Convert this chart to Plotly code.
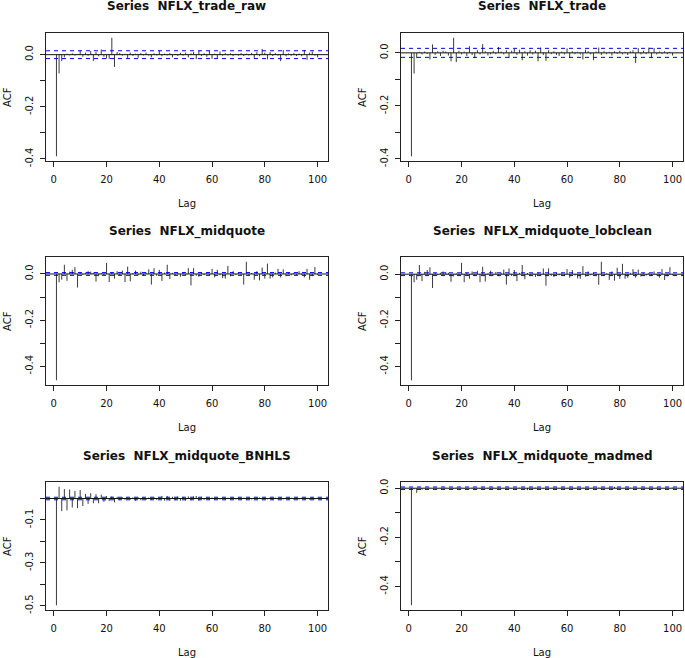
import numpy as np
import plotly.graph_objects as go

W, H = 685, 658

lags = list(range(1, 101))

titles = [
    "Series\u00a0 NFLX_trade_raw",
    "Series\u00a0 NFLX_trade",
    "Series\u00a0 NFLX_midquote",
    "Series\u00a0 NFLX_midquote_lobclean",
    "Series\u00a0 NFLX_midquote_BNHLS",
    "Series\u00a0 NFLX_midquote_madmed",
]

acf_trade_raw = [
    -0.390, -0.072, -0.025, -0.010, 0.004, -0.003, 0.005, -0.004, 0.003, 0.015,
    -0.008, 0.008, -0.004, 0.014, -0.024, 0.010, -0.006, 0.020, -0.008, -0.015,
    -0.016, 0.065, -0.047, 0.010, 0.006, -0.004, 0.003, -0.013, 0.008, -0.005,
    0.004, -0.012, 0.006, -0.003, 0.008, -0.004, -0.010, 0.005, -0.003, 0.015,
    -0.006, 0.004, -0.003, 0.006, -0.010, 0.003, -0.005, 0.007, -0.004, 0.008,
    -0.010, 0.005, 0.010, -0.017, 0.014, -0.005, 0.006, -0.008, 0.015, -0.016,
    0.004, -0.015, 0.012, -0.004, 0.006, -0.003, 0.005, -0.006, 0.003, -0.004,
    0.006, -0.005, 0.004, -0.003, 0.007, -0.015, 0.010, -0.006, 0.022, 0.008,
    -0.018, 0.010, -0.005, 0.006, -0.004, -0.025, 0.018, -0.006, 0.005, -0.004,
    0.006, -0.005, 0.004, -0.006, 0.018, -0.020, 0.008, 0.012, -0.004, -0.010,
]

acf_trade = [
    -0.390, -0.078, -0.020, 0.004, -0.006, 0.005, -0.004, -0.025, 0.032, -0.008,
    0.006, -0.012, 0.008, 0.005, -0.010, -0.032, 0.057, -0.035, 0.008, -0.006,
    0.005, -0.012, 0.025, -0.008, -0.020, 0.010, -0.006, 0.033, 0.006, -0.010,
    -0.006, 0.008, -0.005, 0.022, 0.005, -0.006, 0.010, -0.020, 0.008, 0.015,
    -0.008, 0.012, -0.028, 0.006, -0.010, 0.010, -0.006, 0.008, -0.032, 0.020,
    -0.008, -0.030, 0.010, -0.005, 0.006, -0.008, -0.012, 0.005, -0.006, 0.017,
    -0.020, 0.006, -0.005, 0.004, -0.006, -0.025, 0.012, 0.006, -0.006, -0.028,
    0.005, 0.020, -0.008, 0.006, -0.005, 0.004, -0.010, 0.006, -0.004, 0.008,
    -0.006, 0.004, -0.008, 0.006, 0.010, -0.038, 0.018, -0.006, 0.008, -0.005,
    0.020, -0.020, 0.018, -0.006, 0.005, -0.004, 0.006, -0.005, 0.004, -0.010,
]

acf_midquote = [
    -0.461, -0.036, -0.025, 0.040, -0.030, 0.010, 0.018, 0.030, -0.059, 0.005,
    -0.004, 0.006, 0.012, 0.010, 0.006, -0.033, -0.010, 0.004, -0.005, 0.048,
    -0.035, 0.005, -0.020, 0.012, -0.006, 0.015, -0.035, 0.032, -0.032, 0.004,
    0.015, -0.006, 0.010, -0.008, 0.006, 0.020, -0.046, 0.025, -0.008, 0.018,
    -0.030, 0.006, 0.040, -0.022, 0.005, -0.006, 0.004, -0.012, 0.006, -0.005,
    0.025, -0.050, 0.025, -0.008, -0.012, 0.006, -0.005, 0.004, -0.008, 0.022,
    -0.015, 0.018, -0.006, -0.018, -0.020, 0.035, -0.010, 0.012, -0.005, 0.006,
    -0.004, -0.046, 0.053, -0.006, 0.004, -0.025, 0.012, -0.028, 0.028, -0.020,
    0.045, -0.020, -0.015, 0.006, 0.022, -0.015, 0.020, -0.010, 0.004, -0.006,
    0.005, -0.004, 0.012, -0.005, -0.015, 0.022, -0.025, -0.010, 0.030, -0.005,
]

acf_lobclean = [
    -0.460, -0.035, -0.024, 0.040, -0.030, 0.010, 0.018, 0.030, -0.060, 0.005,
    -0.004, 0.006, 0.012, 0.010, 0.006, -0.033, -0.010, 0.004, -0.005, 0.049,
    -0.035, 0.005, -0.020, 0.012, -0.006, 0.015, -0.035, 0.032, -0.032, 0.004,
    0.015, -0.006, 0.010, -0.008, 0.006, 0.020, -0.045, 0.025, -0.008, 0.018,
    -0.030, 0.006, 0.040, -0.022, 0.005, -0.006, 0.004, -0.012, 0.006, -0.005,
    0.025, -0.050, 0.025, -0.008, -0.012, 0.006, -0.005, 0.004, -0.008, 0.022,
    -0.015, 0.018, -0.006, -0.018, -0.020, 0.035, -0.010, 0.012, -0.005, 0.006,
    -0.004, -0.046, 0.054, -0.006, 0.004, -0.025, 0.012, -0.028, 0.028, -0.020,
    0.045, -0.020, -0.015, 0.006, 0.022, -0.015, 0.020, -0.010, 0.004, -0.006,
    0.005, -0.004, 0.012, -0.005, -0.015, 0.022, -0.025, -0.010, 0.030, -0.005,
]

acf_bnhls = [
    -0.498, 0.055, -0.059, 0.044, -0.055, 0.042, -0.042, 0.035, -0.045, 0.040,
    -0.035, 0.022, -0.025, 0.025, -0.022, 0.020, -0.022, 0.018, -0.015, 0.012,
    -0.012, 0.010, -0.018, 0.008, -0.006, 0.006, -0.006, 0.005, -0.005, 0.005,
    -0.010, 0.006, -0.008, 0.004, -0.006, 0.005, -0.005, 0.006, -0.006, 0.005,
    0.012, -0.010, 0.012, -0.010, 0.008, -0.008, 0.010, -0.010, 0.008, -0.010,
    0.010, -0.008, 0.010, 0.012, -0.010, 0.008, -0.006, 0.006, -0.006, 0.005,
    -0.005, 0.004, -0.004, 0.004, -0.005, 0.004, -0.004, 0.004, -0.004, 0.005,
    -0.004, 0.004, -0.005, 0.004, -0.004, 0.004, -0.004, 0.005, -0.004, 0.004,
    -0.004, 0.004, -0.005, 0.004, -0.004, 0.005, -0.004, 0.004, -0.004, 0.004,
    -0.005, 0.004, -0.004, 0.004, -0.004, 0.004, -0.005, 0.004, -0.004, 0.004,
]

acf_madmed = [
    -0.477, -0.004, -0.019, 0.002, -0.006, 0.001, -0.002, 0.002, -0.001, 0.002,
    -0.002, 0.001, -0.002, 0.002, -0.001, 0.001, -0.002, 0.002, -0.001, 0.002,
    -0.002, 0.001, -0.001, 0.002, -0.002, 0.001, -0.002, 0.002, -0.001, 0.001,
    -0.002, 0.002, -0.001, 0.002, -0.002, 0.001, -0.001, 0.002, -0.002, 0.001,
    -0.002, 0.002, -0.001, 0.001, -0.008, 0.002, -0.001, 0.002, -0.002, 0.001,
    -0.002, 0.002, -0.001, 0.001, -0.002, 0.002, -0.001, 0.002, -0.002, 0.001,
    -0.001, 0.002, -0.002, 0.001, -0.002, 0.002, -0.001, 0.001, -0.002, 0.002,
    -0.001, 0.002, -0.002, 0.001, -0.001, 0.002, -0.002, 0.006, -0.002, 0.002,
    -0.001, 0.001, -0.002, 0.002, -0.001, 0.002, -0.002, 0.001, -0.001, 0.002,
    -0.002, 0.001, -0.002, 0.002, -0.001, 0.001, -0.002, 0.002, -0.001, 0.002,
]

series = [acf_trade_raw, acf_trade, acf_midquote, acf_lobclean, acf_bnhls, acf_madmed]
conf_limits = [0.015, 0.017, 0.006, 0.006, 0.006, 0.005]

xtick_vals = [0, 20, 40, 60, 80, 100]
ytick_vals = [
    [-0.4, -0.3, -0.2, -0.1, 0.0],
    [-0.4, -0.3, -0.2, -0.1, 0.0],
    [-0.4, -0.3, -0.2, -0.1, 0.0],
    [-0.4, -0.3, -0.2, -0.1, 0.0],
    [-0.5, -0.4, -0.3, -0.2, -0.1, 0.0],
    [-0.4, -0.3, -0.2, -0.1, 0.0],
]
ytick_text = [
    ["-0.4", "", "-0.2", "", "0.0"],
    ["-0.4", "", "-0.2", "", "0.0"],
    ["-0.4", "", "-0.2", "", "0.0"],
    ["-0.4", "", "-0.2", "", "0.0"],
    ["-0.5", "", "-0.3", "", "-0.1", ""],
    ["-0.4", "", "-0.2", "", "0.0"],
]

# plot boxes in window pixels (left, right, top, bottom)
cols_px = [(46, 328), (401, 683)]
rows_px = [(33, 161), (257, 385), (482, 610)]


def px(xp):
    return xp / W


def py(yp):
    return 1 - yp / H


FONT = "DejaVu Sans"
AX = "#222222"

fig = go.Figure()
layout = {}
annotations = []
shapes = []

for i in range(6):
    r, c = divmod(i, 2)
    k = i + 1
    sfx = "" if k == 1 else str(k)
    xl, xr = cols_px[c]
    yt, yb = rows_px[r]
    xdom = [px(xl), px(xr)]
    ydom = [py(yb), py(yt)]
    vals = series[i]
    clim = conf_limits[i]
    lo = min(min(vals), -clim)
    hi = max(max(vals), clim)
    ext = 0.04 * (hi - lo)
    xlo, xhi = min(lags), max(lags)
    xext = 0.04 * (xhi - xlo)

    xs, ys = [], []
    for lag, v in zip(lags, vals):
        xs += [lag, lag, None]
        ys += [0, v, None]
    fig.add_trace(go.Scatter(
        x=xs, y=ys, mode="lines",
        line=dict(color="#3a3a3a", width=1),
        xaxis=f"x{sfx}", yaxis=f"y{sfx}", showlegend=False, hoverinfo="skip",
    ))

    layout[f"xaxis{sfx}"] = dict(
        domain=xdom, range=[xlo - xext, xhi + xext], anchor=f"y{sfx}",
        tickvals=xtick_vals, ticks="outside", ticklen=5, tickcolor=AX,
        showline=True, mirror=True, linecolor=AX, linewidth=1,
        showgrid=False, zeroline=False, automargin=False,
        tickfont=dict(family=FONT, size=10, color="#111"),
        ticklabelstandoff=4,
    )
    layout[f"yaxis{sfx}"] = dict(
        domain=ydom, range=[lo - ext, hi + ext], anchor=f"x{sfx}",
        tickvals=ytick_vals[i], ticktext=ytick_text[i], tickangle=-90,
        ticks="outside", ticklen=5, tickcolor=AX,
        showline=True, mirror=True, linecolor=AX, linewidth=1,
        showgrid=False, zeroline=False, automargin=False,
        tickfont=dict(family=FONT, size=10, color="#111"),
        ticklabelstandoff=3,
    )

    xref = f"x{sfx} domain"
    yref = f"y{sfx}"
    shapes.append(dict(type="line", xref=xref, yref=yref, x0=0, x1=1, y0=0, y1=0,
                       line=dict(color="#111", width=1)))
    for s in (1, -1):
        shapes.append(dict(type="line", xref=xref, yref=yref, x0=0, x1=1,
                           y0=s * clim, y1=s * clim,
                           line=dict(color="#0000FF", width=1, dash="4px,4px")))

    cx = px((xl + xr) / 2)
    annotations.append(dict(text=f"<b>{titles[i]}</b>", x=cx, y=py(yt - 26),
                            xref="paper", yref="paper", showarrow=False,
                            xanchor="center", yanchor="middle",
                            font=dict(family=FONT, size=12, color="#111")))
    annotations.append(dict(text="Lag", x=cx, y=py(yb + 42),
                            xref="paper", yref="paper", showarrow=False,
                            xanchor="center", yanchor="middle",
                            font=dict(family=FONT, size=10, color="#111")))
    annotations.append(dict(text="ACF", x=px(xl - 39), y=py((yt + yb) / 2),
                            xref="paper", yref="paper", showarrow=False, textangle=-90,
                            xanchor="center", yanchor="middle",
                            font=dict(family=FONT, size=10, color="#111")))

fig.update_layout(
    width=W, height=H,
    margin=dict(l=0, r=0, t=0, b=0),
    paper_bgcolor="white", plot_bgcolor="white",
    annotations=annotations, shapes=shapes,
    **layout,
)

fig.write_html("out.html",
               config={"displayModeBar": False},
               post_script="document.body.style.margin='0';document.body.style.overflow='hidden';")
